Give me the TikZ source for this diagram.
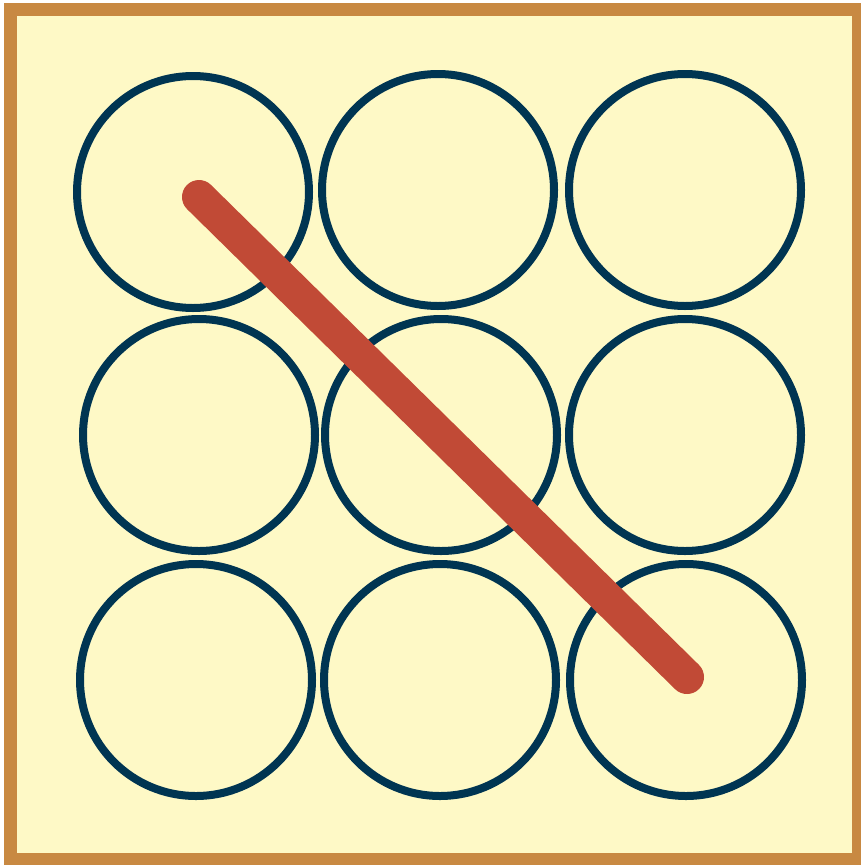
\documentclass[tikz,border=0pt]{standalone}
\definecolor{bgyellow}{RGB}{254,249,198}
\definecolor{frameorange}{RGB}{200,137,66}
\definecolor{ringnavy}{RGB}{0,53,82}
\definecolor{strokered}{RGB}{193,74,54}
\tikzset{
  ring/.style={circle, draw=ringnavy, line width=8pt, minimum size=232pt, inner sep=0pt},
  winline/.style={draw=strokered, line width=34pt, line cap=round}
}
\begin{document}
\begin{tikzpicture}[x=1pt,y=-1pt]
\useasboundingbox (0,0) rectangle (861,865);
\fill[white] (0,0) rectangle (861,865);
\draw[fill=bgyellow, draw=frameorange, line width=13pt] (10.5,9) rectangle (858,859);
\node[ring] (c11) at (193,192) {};
\node[ring] (c12) at (438,190) {};
\node[ring] (c13) at (685,190) {};
\node[ring] (c21) at (199,435) {};
\node[ring] (c22) at (441,435) {};
\node[ring] (c23) at (685,435) {};
\node[ring] (c31) at (196,680) {};
\node[ring] (c32) at (440,680) {};
\node[ring] (c33) at (686,680) {};
\coordinate (s) at (199,197);
\coordinate (e) at (687,677);
\draw[winline] (s) -- (e);
\end{tikzpicture}
\end{document}
